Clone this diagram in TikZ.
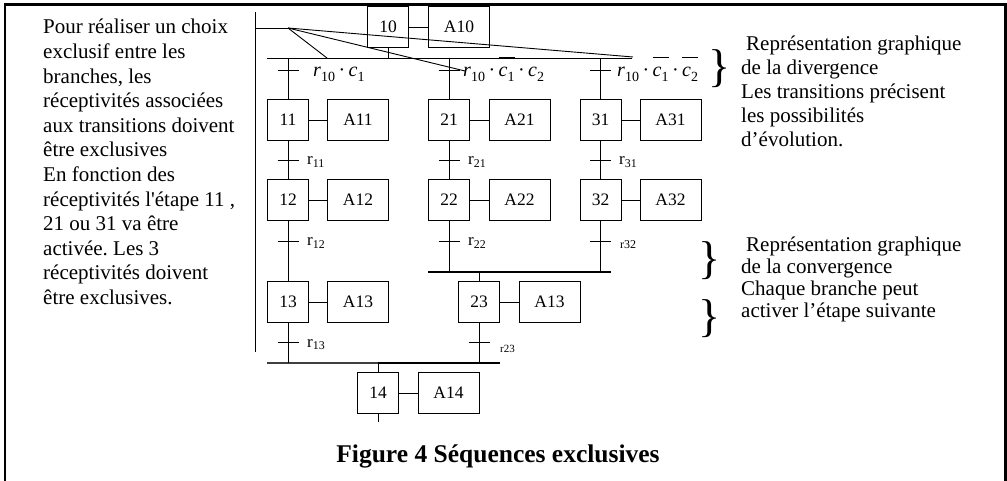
\documentclass[tikz,border=0pt]{standalone}
\usepackage{fontspec}
\setmainfont{Liberation Serif}
\newcommand{\msub}[1]{\raisebox{-0.22em}{\fontsize{14}{14}\selectfont #1}}
\newcommand{\mdot}{\hspace{3.5pt}·\hspace{3.5pt}}
\newcommand{\mbar}[1]{$\overline{\mbox{\rule{0pt}{18pt}#1}}$}
\frenchspacing
\begin{document}
\begin{tikzpicture}[x=1pt,y=-1pt,
  ln/.style={line width=0.9pt},
  stepbox/.style={draw, line width=0.9pt, minimum width=41pt, minimum height=41pt, inner sep=0pt, font=\fontsize{17.5}{17.5}\selectfont},
  actbox/.style={draw, line width=0.9pt, minimum width=61pt, minimum height=41pt, inner sep=0pt, font=\fontsize{17.5}{17.5}\selectfont},
  rlab/.style={anchor=base west, inner sep=0pt, font=\fontsize{17}{17}\selectfont},
  smlab/.style={anchor=base west, inner sep=0pt, font=\fontsize{12}{12}\selectfont},
  mlab/.style={anchor=base west, inner sep=0pt, font=\fontsize{20}{20}\selectfont},
  para/.style={anchor=north west, inner sep=0pt, align=left, font=\fontsize{21}{24.6}\selectfont},
  brace/.style={inner sep=0pt, font=\fontsize{46}{46}\selectfont},
  tick/.style={line width=0.9pt}
]
\useasboundingbox (0,0) rectangle (1007,481);
% frame
\draw[line width=2.6pt] (5,481) -- (5,4.5) -- (1005.5,4.5) -- (1005.5,481);

% steps
\node[stepbox] (s10) at (388,27) {10};
\node[actbox]  (a10) at (459,27) {A10};
\node[stepbox] (s11) at (288,120) {11};
\node[actbox]  (a11) at (358,120) {A11};
\node[stepbox] (s12) at (288,200) {12};
\node[actbox]  (a12) at (358,200) {A12};
\node[stepbox] (s13) at (288,302) {13};
\node[actbox]  (a13) at (358,302) {A13};
\node[stepbox] (s21) at (449,120) {21};
\node[actbox]  (a21) at (519.5,120) {A21};
\node[stepbox] (s22) at (449,200) {22};
\node[actbox]  (a22) at (519.5,200) {A22};
\node[stepbox] (s31) at (600.5,120) {31};
\node[actbox]  (a31) at (670.5,120) {A31};
\node[stepbox] (s32) at (600.5,200) {32};
\node[actbox]  (a32) at (670.5,200) {A32};
\node[stepbox] (s23) at (479,302) {23};
\node[actbox]  (a23) at (549.5,302) {A13};
\node[stepbox] (s14) at (378,393) {14};
\node[actbox]  (a14) at (448.5,393) {A14};

\foreach \s/\a in {s10/a10,s11/a11,s12/a12,s13/a13,s21/a21,s22/a22,s31/a31,s32/a32,s23/a23,s14/a14}
  \draw[ln] (\s.east) -- (\a.west);

% divergence
\coordinate (divL) at (267,58);
\coordinate (divR) at (632,58);
\draw[ln] (divL) -- (divR);
\draw[ln] (s10.south) -- (s10.south |- divL);
\draw[ln] (s11.north |- divL) -- (s11.north);
\draw[ln] (s21.north |- divL) -- (s21.north);
\draw[ln] (s31.north |- divL) -- (s31.north);

% branch links
\draw[ln] (s11.south) -- (s12.north);
\draw[ln] (s12.south) -- (s13.north);
\draw[ln] (s21.south) -- (s22.north);
\draw[ln] (s31.south) -- (s32.north);

% convergence 1
\coordinate (c1L) at (428,272);
\coordinate (c1R) at (611,272);
\draw[line width=1.6pt] (c1L) -- (c1R);
\draw[ln] (s22.south) -- (s22.south |- c1L);
\draw[ln] (s32.south) -- (s32.south |- c1L);
\draw[ln] (s23.north |- c1L) -- (s23.north);

% convergence 2
\coordinate (c2L) at (267,363);
\coordinate (c2M) at (378,363);
\coordinate (c2R) at (500,363);
\draw[line width=1.1pt,black!75] (c2L) -- (c2M);
\draw[line width=1.6pt] (c2M) -- (c2R);
\draw[ln] (s13.south) -- (s13.south |- c2L);
\draw[ln] (s23.south) -- (s23.south |- c2L);
\draw[ln] (s14.north |- c2L) -- (s14.north);
\coordinate (end14) at (378,422);
\draw[ln] (s14.south) -- (end14);

% transition ticks
\foreach \n/\x/\y in {ta/288/70,tb/449/70,tc/600.5/70,t11/288/160,t12/288/241,t21/449/160,t22/449/241,t31/600.5/160,t32/600.5/241,t13/288/342,t23/479/342}{
  \coordinate (\n) at (\x,\y);
  \draw[tick] ([xshift=-10.5pt]\n) -- ([xshift=10.5pt]\n);
}

% receptivity labels
\node[mlab] (la) at (313,77) {\textit{r}\msub{10}\mdot\textit{c}\msub{1}};
\node[mlab] (lb) at (463,77) {\textit{r}\msub{10}\mdot\mbar{\textit{c}\msub{1}}\mdot\textit{c}\msub{2}};
\node[mlab] (lc) at (617,77) {\textit{r}\msub{10}\mdot\mbar{\textit{c}\msub{1}}\mdot\mbar{\textit{c}\msub{2}}};
\node[rlab] (l11) at (307,165) {r\textsubscript{11}};
\node[rlab] (l12) at (307,246) {r\textsubscript{12}};
\node[rlab] (l21) at (468,165) {r\textsubscript{21}};
\node[rlab] (l22) at (468,246) {r\textsubscript{22}};
\node[rlab] (l31) at (619,165) {r\textsubscript{31}};
\node[smlab] (l32) at (620,249) {r32};
\node[rlab] (l13) at (307,347) {r\textsubscript{13}};
\node[smlab,font=\fontsize{11}{11}\selectfont] (l23) at (500,352) {r23};

% left annotation
\node[para] (ltext) at (43,19) {Pour réaliser un choix\\exclusif entre les\\branches, les\\réceptivités associées\\aux transitions doivent\\être exclusives\\En fonction des\\réceptivités l\textquotesingle étape 11 ,\\21 ou 31 va être\\activée. Les 3\\réceptivités doivent\\être exclusives.};
\coordinate (vtop) at (255,12);
\coordinate (vbot) at (255,352);
\coordinate (hk) at (255,28);
\coordinate (fan) at (288,28);
\coordinate (pa) at (327,58);
\coordinate (pb) at (465,71);
\coordinate (pc) at (633,57);
\draw[ln] (vtop) -- (vbot);
\draw[ln] (hk) -- (fan);
\draw[ln] (fan) -- (pa);
\draw[ln] (fan) -- (pb);
\draw[ln] (fan) -- (pc);

% right annotations
\node[brace] (b1) at (720,69) {\}};
\node[para,font=\fontsize{21}{23.8}\selectfont] (rt1) at (741,36) {\hspace{5pt}Représentation graphique\\de la divergence\\Les transitions précisent\\les possibilités\\d’évolution.};
\node[brace] (b2) at (710,261) {\}};
\node[brace] (b3) at (710,319) {\}};
\node[para,font=\fontsize{21}{22}\selectfont] (rt2) at (741,237) {\hspace{5pt}Représentation graphique\\de la convergence\\Chaque branche peut\\activer l’étape suivante};

% caption
\node[anchor=base, inner sep=0pt, font=\bfseries\fontsize{25.5}{25.5}\selectfont] (cap) at (498,462) {Figure 4 Séquences exclusives};
\end{tikzpicture}
\end{document}
